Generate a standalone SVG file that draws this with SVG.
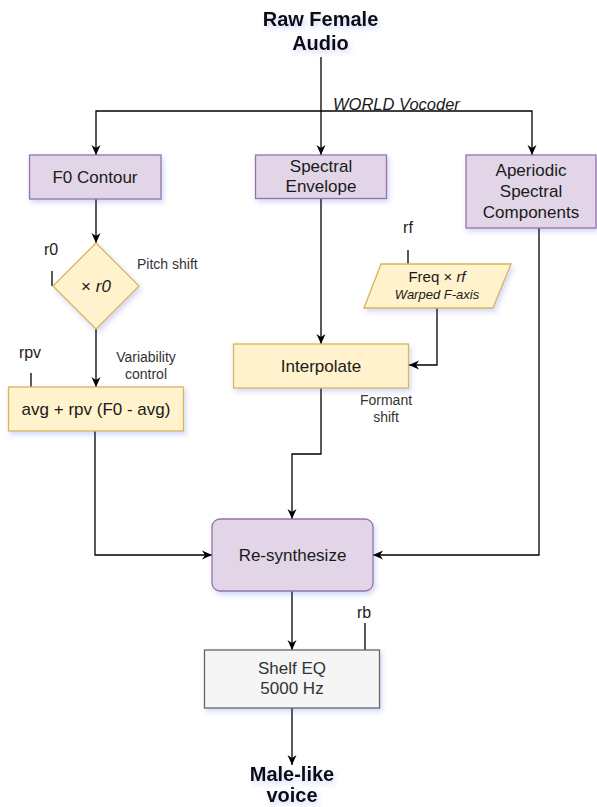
<svg xmlns="http://www.w3.org/2000/svg" width="597" height="807" viewBox="0 0 597 807">
<style>
text{font-family:"Liberation Sans",Arial,sans-serif;fill:#1a1a1a}
.t{font-size:17px;text-anchor:middle}
.lbl{font-size:14px;fill:#333;text-anchor:middle}
.par{font-size:16px;fill:#222;text-anchor:middle}
.title{font-size:20px;font-weight:bold;text-anchor:middle;fill:#111}
.pur{fill:#e1d5e7;stroke:#9673a6;stroke-width:1.3}
.yel{fill:#fff2cc;stroke:#d6b656;stroke-width:1.3}
.gry{fill:#f5f5f5;stroke:#666;stroke-width:1.3}
.e{fill:none;stroke:#000;stroke-width:1.3}
.arr{marker-end:url(#ah)}
.sh{filter:url(#shadow)}
</style>
<defs>
<filter id="shadow" x="-20%" y="-20%" width="150%" height="160%">
<feDropShadow dx="2" dy="3" stdDeviation="2.5" flood-color="#3050e0" flood-opacity="0.22"/>
</filter>
<marker id="ah" viewBox="0 0 10 10" refX="10" refY="5" markerWidth="10" markerHeight="10" markerUnits="userSpaceOnUse" orient="auto">
<path d="M0,0.5 L10,5 L0,9.5 L3,5 Z" fill="#000"/>
</marker>
</defs>

<g id="edges">
<path class="e arr" d="M321,57 V155"/>
<path class="e arr" d="M321,111 H96 V155"/>
<path class="e arr" d="M321,111 H532 V155"/>
<path class="e arr" d="M96,199 V243"/>
<path class="e arr" d="M96,329 V387"/>
<path class="e arr" d="M95,431 V555 H212"/>
<path class="e arr" d="M321,199 V344"/>
<path class="e arr" d="M437,308 V365 H409"/>
<path class="e arr" d="M321,388 V454 H292 V519"/>
<path class="e arr" d="M539,228 V555 H373"/>
<path class="e arr" d="M292,591 V650"/>
<path class="e arr" d="M292,708 V765"/>
<path class="e" d="M52,271 V286"/>
<path class="e" d="M31,373 V387"/>
<path class="e" d="M408,250 V264"/>
<path class="e" d="M365,623 V650"/>
</g>

<g id="raw-audio" class="sh">
<text class="title" x="320.5" y="26">Raw Female</text>
<text class="title" x="320.5" y="50">Audio</text>
</g>
<g id="world-label">
<text x="333" y="110" style="font-size:16.5px;font-style:italic;fill:#1a1a1a">WORLD Vocoder</text>
</g>

<g id="f0-contour">
<rect class="pur sh" x="29.5" y="155" width="131.5" height="44"/>
<text class="t" x="95" y="183">F0 Contour</text>
</g>
<g id="spectral-envelope">
<rect class="pur sh" x="255.5" y="155" width="131" height="43.5"/>
<text class="t" x="321" y="172">Spectral</text>
<text class="t" x="321" y="191.5">Envelope</text>
</g>
<g id="aperiodic">
<rect class="pur sh" x="466" y="155" width="130" height="73"/>
<text class="t" x="531" y="175.5">Aperiodic</text>
<text class="t" x="531" y="196.5">Spectral</text>
<text class="t" x="531" y="217.5">Components</text>
</g>

<g id="pitch-shift">
<polygon class="yel sh" points="96,243 139,286 96,329 53,286"/>
<text class="t" x="96" y="292"><tspan>× </tspan><tspan font-style="italic">r0</tspan></text>
<text class="par" x="51" y="255">r0</text>
<text x="137" y="268.5" style="font-size:14px;fill:#333">Pitch shift</text>
</g>

<g id="variability">
<rect class="yel sh" x="8.5" y="387" width="175" height="44"/>
<text class="t" x="96" y="415">avg + rpv (F0 - avg)</text>
<text class="par" x="30" y="358">rpv</text>
<text class="lbl" x="146" y="361.5">Variability</text>
<text class="lbl" x="146" y="378.5">control</text>
</g>

<g id="warp">
<polygon class="yel sh" points="381,264 511,264 493,308 364,308"/>
<text x="437" y="281.5" style="font-size:15px;text-anchor:middle;fill:#1a1a1a">Freq × <tspan font-style="italic">rf</tspan></text>
<text x="437" y="299" style="font-size:13px;font-style:italic;text-anchor:middle;fill:#1a1a1a">Warped F-axis</text>
<text class="par" x="408" y="233">rf</text>
</g>

<g id="interpolate">
<rect class="yel sh" x="233.5" y="344" width="175" height="44"/>
<text class="t" x="321" y="372">Interpolate</text>
<text class="lbl" x="386" y="405">Formant</text>
<text class="lbl" x="386" y="421.5">shift</text>
</g>

<g id="resynthesize">
<rect class="pur sh" x="212" y="519" width="161" height="72" rx="8" ry="8"/>
<text class="t" x="292.5" y="561">Re-synthesize</text>
</g>

<g id="shelf-eq">
<rect class="gry sh" x="204.5" y="650" width="175" height="58"/>
<text class="t" x="292" y="674" style="fill:#333">Shelf EQ</text>
<text class="t" x="292" y="694" style="fill:#333">5000 Hz</text>
<text class="par" x="364" y="618">rb</text>
</g>

<g id="output" class="sh">
<text class="title" x="292" y="781">Male-like</text>
<text class="title" x="292" y="802">voice</text>
</g>
</svg>
